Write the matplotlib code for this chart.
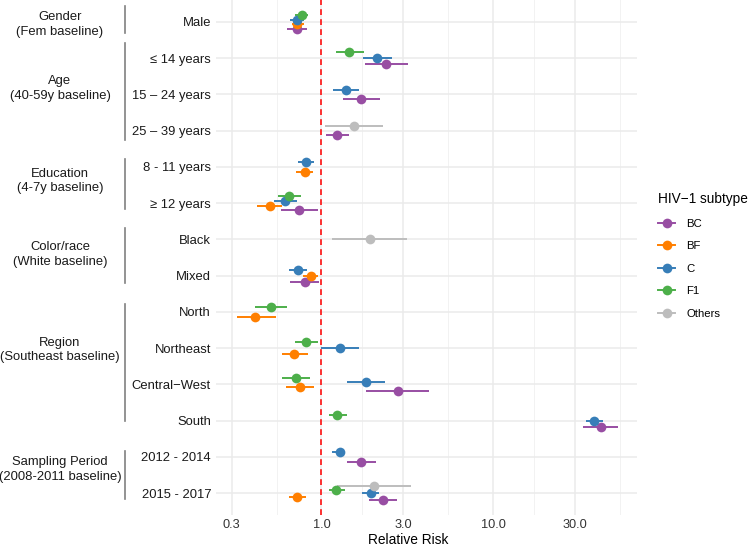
import pandas as pd
import matplotlib
matplotlib.use("Agg")
import matplotlib.pyplot as plt
from matplotlib.lines import Line2D
from matplotlib.ticker import NullFormatter
from matplotlib.transforms import blended_transform_factory

plt.rcParams["font.family"] = ["Liberation Sans", "DejaVu Sans"]

# rows of the forest plot, top to bottom
ROWS = ["Male", "≤ 14 years", "15 – 24 years", "25 – 39 years",
        "8 - 11 years", "≥ 12 years", "Black", "Mixed",
        "North", "Northeast", "Central−West", "South",
        "2012 - 2014", "2015 - 2017"]

GROUPS = ["Gender\n(Fem baseline)", "Age\n(40-59y baseline)",
          "Education\n(4-7y baseline)", "Color/race\n(White baseline)",
          "Region\n(Southeast baseline)", "Sampling Period\n(2008-2011 baseline)"]
GROUP_FIRST = ["Male", "≤ 14 years", "8 - 11 years", "Black", "North", "2012 - 2014"]
GROUP_LAST = ["Male", "25 – 39 years", "≥ 12 years", "Mixed", "South", "2015 - 2017"]

SUBTYPES = ["BC", "BF", "C", "F1", "Others"]
COLORS = ["#984EA3", "#FF7F00", "#377EB8", "#4DAF4A", "#BDBDBD"]

BC_ROWS = ["Male", "≤ 14 years", "15 – 24 years", "25 – 39 years", "≥ 12 years",
           "Mixed", "Central−West", "South", "2012 - 2014", "2015 - 2017"]
BC_RR = [0.72, 2.38, 1.71, 1.23, 0.74, 0.80, 2.81, 42.4, 1.71, 2.28]
BC_LO = [0.63, 1.79, 1.33, 1.06, 0.58, 0.66, 1.82, 33.6, 1.41, 1.90]
BC_HI = [0.82, 3.18, 2.20, 1.45, 0.95, 0.97, 4.25, 53.3, 2.07, 2.75]

BF_ROWS = ["Male", "8 - 11 years", "≥ 12 years", "Mixed", "North",
           "Northeast", "Central−West", "2015 - 2017"]
BF_RR = [0.72, 0.80, 0.50, 0.87, 0.41, 0.69, 0.75, 0.72]
BF_LO = [0.67, 0.71, 0.42, 0.78, 0.32, 0.59, 0.62, 0.65]
BF_HI = [0.79, 0.89, 0.59, 0.96, 0.54, 0.83, 0.91, 0.81]

C_ROWS = ["Male", "≤ 14 years", "15 – 24 years", "8 - 11 years", "≥ 12 years",
          "Mixed", "Northeast", "Central−West", "South", "2012 - 2014", "2015 - 2017"]
C_RR = [0.72, 2.10, 1.39, 0.81, 0.61, 0.73, 1.28, 1.81, 38.9, 1.28, 1.94]
C_LO = [0.66, 1.75, 1.17, 0.73, 0.53, 0.65, 1.00, 1.40, 34.7, 1.15, 1.73]
C_HI = [0.79, 2.57, 1.66, 0.90, 0.72, 0.82, 1.66, 2.35, 43.9, 1.36, 2.16]

F1_ROWS = ["Male", "≤ 14 years", "≥ 12 years", "North", "Northeast",
           "Central−West", "South", "2015 - 2017"]
F1_RR = [0.77, 1.45, 0.65, 0.51, 0.81, 0.71, 1.24, 1.22]
F1_LO = [0.70, 1.21, 0.56, 0.41, 0.70, 0.59, 1.11, 1.10]
F1_HI = [0.83, 1.78, 0.76, 0.63, 0.95, 0.86, 1.40, 1.37]

OT_ROWS = ["25 – 39 years", "Black", "2015 - 2017"]
OT_RR = [1.55, 1.91, 2.02]
OT_LO = [1.05, 1.16, 1.24]
OT_HI = [2.28, 3.17, 3.34]

XTICKS = [0.3, 1, 3, 10, 30]
XTICK_LABELS = ["0.3", "1.0", "3.0", "10.0", "30.0"]

frames = []
for name, rows, rr, lo, hi in [("BC", BC_ROWS, BC_RR, BC_LO, BC_HI),
                               ("BF", BF_ROWS, BF_RR, BF_LO, BF_HI),
                               ("C", C_ROWS, C_RR, C_LO, C_HI),
                               ("F1", F1_ROWS, F1_RR, F1_LO, F1_HI),
                               ("Others", OT_ROWS, OT_RR, OT_LO, OT_HI)]:
    frames.append(pd.DataFrame({"subtype": name, "row": rows, "rr": rr, "lo": lo, "hi": hi}))
df = pd.concat(frames, ignore_index=True)
df["ypos"] = df["row"].map({r: i for i, r in enumerate(ROWS)}).astype(float)

# dodge like ggplot: within a row, Others on top ... BC at the bottom
DODGE = 0.5
stack_order = SUBTYPES[::-1]
for r, sub in df.groupby("row"):
    present = [s for s in stack_order if s in set(sub["subtype"])]
    n = len(present)
    for k, s in enumerate(present):
        idx = sub.index[sub["subtype"] == s]
        df.loc[idx, "ypos"] += (k - (n - 1) / 2) * DODGE / n

W, H = 749, 546
fig = plt.figure(figsize=(W / 100, H / 100), dpi=100)
ax = fig.add_axes([216 / W, 1 - 515 / H, 421 / W, 514.75 / H])

ax.set_xscale("log")
ax.set_xlim(0.243, 69.0)
ax.set_ylim(len(ROWS) - 0.4, -0.6)
ax.set_xticks(XTICKS)
ax.set_xticklabels(XTICK_LABELS)
minors = [(a * b) ** 0.5 for a, b in zip(XTICKS, XTICKS[1:] + [100])]
ax.set_xticks(minors, minor=True)
ax.xaxis.set_minor_formatter(NullFormatter())
ax.set_yticks(range(len(ROWS)))
ax.set_yticklabels(ROWS)
ax.tick_params(which="both", length=0)
ax.tick_params(axis="y", pad=3.6, labelsize=9.4, labelcolor="#1a1a1a")
ax.tick_params(axis="x", pad=3.0, labelsize=9.2, labelcolor="#333333")
for sp in ax.spines.values():
    sp.set_visible(False)
ax.set_axisbelow(True)
ax.grid(which="major", color="#EBEBEB", lw=1.1)
ax.grid(which="minor", axis="x", color="#F2F2F2", lw=0.7)

ax.axvline(1, color="#FF1010", lw=1.2, ls=(0, (3.5, 2.5)), zorder=1.5)

for s, c in zip(SUBTYPES, COLORS):
    d = df[df["subtype"] == s]
    ax.hlines(d["ypos"], d["lo"], d["hi"], color=c, lw=1.4, zorder=2)
    ax.plot(d["rr"], d["ypos"], "o", color=c, ms=7.0, mew=0, zorder=3)

ax.set_xlabel("Relative Risk", fontsize=9.9, color="black")
ax.xaxis.set_label_coords((408 - 216) / 421, -(540 - 515) / 514.75)
ax.xaxis.label.set_va("center")

# group brackets and labels on the left
trans = blended_transform_factory(fig.transFigure, ax.transData)
BAR_TOP = [-0.45, -0.41, -0.21, -0.31, -0.23, -0.17]
BAR_BOT = [0.31, 0.26, 0.17, 0.21, 0.0, 0.16]
LABEL_Y = [0.07, 1.83, 4.39, 6.41, 9.05, 12.34]
for g, first, last, t, b, ly in zip(GROUPS, GROUP_FIRST, GROUP_LAST, BAR_TOP, BAR_BOT, LABEL_Y):
    y0 = ROWS.index(first) + t
    y1 = ROWS.index(last) + b
    ax.add_line(Line2D([125 / W, 125 / W], [y0, y1], transform=trans,
                       color="#808080", lw=1.2, clip_on=False))
    fig.text(60 / W, ly, g, transform=trans, ha="center", va="center",
             fontsize=9.4, color="#1a1a1a", linespacing=1.3)

handles = [Line2D([], [], color=c, marker="o", ms=7.0, mew=0, lw=1.4) for c in COLORS]
leg = fig.legend(handles, SUBTYPES, loc="upper left",
                 bbox_to_anchor=(658 / W, 1 - 192 / H), frameon=False,
                 title="HIV−1 subtype", alignment="left", fontsize=8.2,
                 title_fontsize=9.8, borderpad=0, borderaxespad=0,
                 handlelength=1.5, handletextpad=1.0, labelspacing=1.1)

fig.savefig("out.png", dpi=100, facecolor="white")
